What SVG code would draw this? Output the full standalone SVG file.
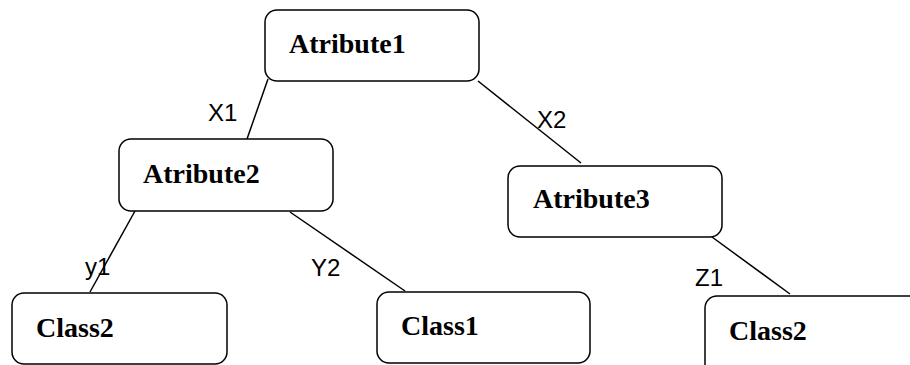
<svg xmlns="http://www.w3.org/2000/svg" width="910" height="365" viewBox="0 0 910 365">
<style>
.box{fill:#fff;stroke:#000;stroke-width:1.5}
.t{font-family:"Liberation Serif","Times New Roman",serif;font-weight:bold;font-size:28px;fill:#000}
.e{stroke:#000;stroke-width:1.5;fill:none}
.l{font-family:"Liberation Sans",Arial,sans-serif;font-size:24px;fill:#000}
</style>
<rect width="910" height="365" fill="#fff"/>
<g id="connectors">
<line class="e" x1="268" y1="79" x2="247" y2="139"/>
<line class="e" x1="478" y1="81" x2="581" y2="163"/>
<line class="e" x1="135" y1="211" x2="90" y2="292"/>
<line class="e" x1="290" y1="212" x2="405" y2="291"/>
<line class="e" x1="712" y1="237" x2="790" y2="294"/>
<text class="l" x="208" y="121">X1</text>
<text class="l" x="537" y="128">X2</text>
<text class="l" x="85" y="275">y1</text>
<text class="l" x="311" y="276">Y2</text>
<text class="l" x="695" y="286">Z1</text>
</g>
<g id="atribute1"><rect class="box" x="265" y="10" width="214" height="71" rx="12"/><text class="t" x="289" y="53">Atribute1</text></g>
<g id="atribute2"><rect class="box" x="119" y="139" width="214" height="72" rx="12"/><text class="t" x="143" y="183">Atribute2</text></g>
<g id="atribute3"><rect class="box" x="508" y="166" width="214" height="71" rx="12"/><text class="t" x="533" y="208">Atribute3</text></g>
<g id="class2a"><rect class="box" x="12" y="293" width="215" height="71" rx="12"/><text class="t" x="36" y="337">Class2</text></g>
<g id="class1"><rect class="box" x="377" y="292" width="213" height="71" rx="12"/><text class="t" x="401" y="335">Class1</text></g>
<g id="class2b"><rect class="box" x="705" y="296" width="230" height="90" rx="12"/><text class="t" x="729" y="340">Class2</text></g>
</svg>
